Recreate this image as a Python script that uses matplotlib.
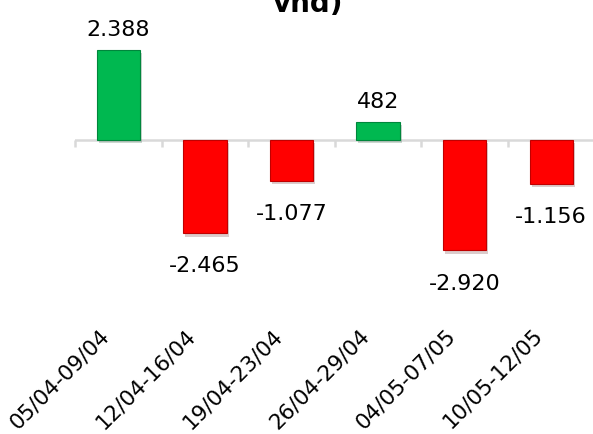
import matplotlib
matplotlib.use("Agg")
import matplotlib.pyplot as plt
import matplotlib.patheffects as pe
import matplotlib.transforms as mtrans
import numpy as np

categories = ["05/04-09/04", "12/04-16/04", "19/04-23/04", "26/04-29/04", "04/05-07/05", "10/05-12/05"]
values = [2388, -2465, -1077, 482, -2920, -1156]
value_labels = ["2.388", "-2.465", "-1.077", "482", "-2.920", "-1.156"]
title = "Giá trị mua/bán ròng của khối ngoại (tỷ\nvnđ)"

W, H = 593, 435
fig = plt.figure(figsize=(W / 100, H / 100), dpi=100)
left_px, right_px, top_px, bottom_px = 75, 594.5, 35, 300
ax = fig.add_axes([left_px / W, 1 - bottom_px / H, (right_px - left_px) / W, (bottom_px - top_px) / H])

x = np.arange(len(categories))
colors = ["#00b850" if v >= 0 else "#ff0000" for v in values]
edges = ["#00863c" if v >= 0 else "#c00000" for v in values]
bars = ax.bar(x, values, width=0.5, color=colors, edgecolor=edges, linewidth=0.8, zorder=3)
for b in bars:
    b.set_path_effects([pe.SimplePatchShadow(offset=(1.5, -2.5), alpha=0.2), pe.Normal()])

ax.set_xlim(-0.5, len(categories) - 0.5)
ax.set_ylim(-4206, 2804)

# zero axis line with tick marks at category boundaries
ax.axhline(0, color="#d9d9d9", linewidth=1.8, zorder=2)
bounds = np.arange(len(categories) + 1) - 0.5
for bx in bounds:
    ax.plot([bx, bx], [0, -7 / 0.0378], color="#d9d9d9", linewidth=1.8, zorder=2,
            clip_on=False, solid_capstyle="butt")

for xi, v, lab in zip(x, values, value_labels):
    if v >= 0:
        ax.annotate(lab, (xi, v), xytext=(0, 8), textcoords="offset points",
                    ha="center", va="bottom", fontsize=16, color="black")
    else:
        ax.annotate(lab, (xi, v), xytext=(0, -16), textcoords="offset points",
                    ha="center", va="top", fontsize=16, color="black")

ax.set_xticks(x)
ax.set_xticklabels(categories, rotation=45, ha="right", rotation_mode="anchor", fontsize=15.5)
ax.tick_params(axis="x", length=0, pad=8)
shift = mtrans.ScaledTranslation(-19 / 100, -14 / 100, fig.dpi_scale_trans)
for t in ax.get_xticklabels():
    t.set_transform(t.get_transform() + shift)
ax.set_yticks([])
for s in ax.spines.values():
    s.set_visible(False)

fig.text(308 / W, 1 - 18 / H, title, ha="center", va="bottom", fontsize=20, fontweight="bold")

fig.savefig("out.png", dpi=100)
